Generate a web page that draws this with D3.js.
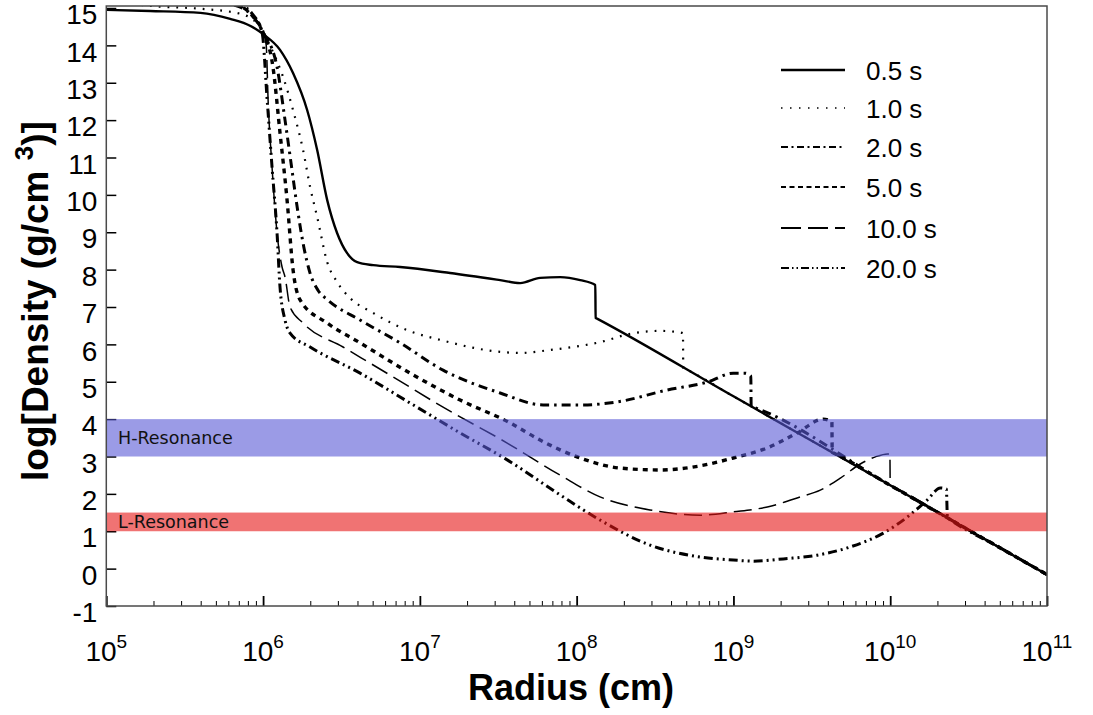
<!DOCTYPE html>
<html><head><meta charset="utf-8">
<script src="https://cdn.jsdelivr.net/npm/d3@7"></script>
<style>body{margin:0;background:#fff} svg{display:block}</style>
</head><body><svg id="c" width="1093" height="715"></svg>
<script>
// ---------- data (radius as log10(cm), density as log10(g/cm^3)) ----------
const seriesNames = ["0.5 s", "1.0 s", "2.0 s", "5.0 s", "10.0 s", "20.0 s"];

const logR_05 = [5.0, 5.28, 5.6, 5.79, 5.92, 6.0, 6.108, 6.191, 6.281, 6.345, 6.409, 6.472, 6.536, 6.6, 6.702, 6.874, 7.193, 7.512, 7.64, 7.767, 7.895, 8.023, 8.119, 8.121, 8.13, 9.0, 10.0, 11.0];
const rho_05  = [14.95, 14.92, 14.87, 14.71, 14.52, 14.30, 13.88, 13.26, 12.27, 11.20, 9.86, 8.98, 8.44, 8.20, 8.12, 8.07, 7.91, 7.72, 7.64, 7.78, 7.80, 7.72, 7.59, 6.71, 6.69, 4.61, 2.23, -0.16];

const logR_10 = [5.0, 5.3, 5.6, 5.85, 5.97, 6.02, 6.057, 6.128, 6.191, 6.255, 6.300, 6.345, 6.409, 6.472, 6.555, 6.702, 6.919, 7.130, 7.512, 7.640, 7.830, 8.149, 8.360, 8.533, 8.641, 8.678, 8.680, 8.69, 9.0, 10.0, 11.0];
const rho_10  = [15.2, 15.05, 14.98, 14.85, 14.55, 14.2, 13.88, 13.15, 12.27, 11.20, 10.21, 9.41, 8.20, 7.67, 7.24, 6.84, 6.38, 6.12, 5.80, 5.77, 5.85, 6.06, 6.30, 6.36, 6.33, 6.30, 5.37, 5.35, 4.61, 2.23, -0.16];

const logR_20 = [5.0, 5.5, 5.8, 5.93, 6.0, 6.089, 6.14, 6.18, 6.22, 6.26, 6.30, 6.35, 6.409, 6.619, 6.874, 7.148, 7.512, 7.786, 8.042, 8.259, 8.578, 8.833, 8.999, 9.075, 9.111, 9.113, 9.12, 10.0, 11.0];
const rho_20  = [15.5, 15.3, 15.1, 14.8, 14.35, 13.42, 12.0, 10.8, 9.6, 8.6, 7.9, 7.45, 7.2, 6.65, 6.04, 5.31, 4.70, 4.38, 4.38, 4.46, 4.78, 4.99, 5.23, 5.23, 5.15, 4.34, 4.33, 2.23, -0.16];

const logR_50 = [5.0, 5.5, 5.8, 5.93, 6.0, 6.063, 6.108, 6.153, 6.191, 6.236, 6.409, 6.619, 6.938, 7.257, 7.576, 7.767, 8.023, 8.278, 8.533, 8.788, 8.999, 9.216, 9.407, 9.573, 9.628, 9.630, 9.64, 10.0, 11.0];
const rho_50  = [15.6, 15.4, 15.15, 14.8, 14.35, 13.42, 11.66, 9.86, 8.0, 7.19, 6.57, 6.04, 5.23, 4.51, 3.90, 3.44, 2.96, 2.69, 2.64, 2.75, 2.96, 3.23, 3.63, 4.0, 3.92, 3.11, 3.09, 2.23, -0.16];

const logR_100 = [5.0, 5.5, 5.8, 5.93, 6.0, 6.02, 6.032, 6.057, 6.089, 6.121, 6.140, 6.172, 6.255, 6.510, 6.829, 7.148, 7.557, 7.895, 8.149, 8.468, 8.788, 8.999, 9.216, 9.427, 9.554, 9.682, 9.809, 9.905, 9.982, 9.998, 10.0, 10.01, 10.5, 11.0];
const rho_100  = [15.6, 15.4, 15.15, 14.8, 14.35, 14.0, 12.54, 10.75, 8.98, 8.07, 7.80, 7.0, 6.57, 5.93, 5.13, 4.32, 3.36, 2.5, 1.92, 1.57, 1.43, 1.52, 1.65, 1.92, 2.10, 2.42, 2.80, 2.99, 3.07, 3.07, 2.23, 2.21, 1.04, -0.16];

const logR_200 = [5.0, 5.5, 5.8, 5.93, 5.994, 6.026, 6.057, 6.089, 6.108, 6.140, 6.172, 6.300, 6.619, 6.938, 7.257, 7.557, 7.895, 8.149, 8.468, 8.788, 8.999, 9.127, 9.318, 9.535, 9.745, 9.956, 10.109, 10.237, 10.320, 10.358, 10.365, 10.375, 10.7, 11.0];
const rho_200  = [15.7, 15.5, 15.2, 14.85, 14.33, 12.54, 10.75, 8.98, 7.53, 6.65, 6.30, 5.93, 5.23, 4.43, 3.63, 2.91, 1.97, 1.30, 0.63, 0.31, 0.23, 0.20, 0.26, 0.36, 0.58, 0.95, 1.38, 1.84, 2.16, 2.13, 1.36, 1.33, 0.56, -0.16];

const yTickValues = [-1, 0, 1, 2, 3, 4, 5, 6, 7, 8, 9, 10, 11, 12, 13, 14, 15];
const xTickExponents = [5, 6, 7, 8, 9, 10, 11];

const bandNames = ["H-Resonance", "L-Resonance"];
const bandLow = [3, 1];
const bandHigh = [4, 1.5];

// ---------- styles ----------
const lineStyles = [
  {dash: null, w: 2.4, lw: 2.4, ldash: null},
  {dash: "1.8,7", w: 2.2, lw: 1.6, ldash: "1.5,7.5"},
  {dash: "9,5,2.5,5", w: 3, lw: 2, ldash: "7,3.5,2,3.5"},
  {dash: "5,5", w: 3.4, lw: 2, ldash: "5,3.5"},
  {dash: "18,7", w: 1.5, lw: 2, ldash: "20,7"},
  {dash: "9,4,2,4,2,4", w: 3, lw: 2, ldash: "8,3,1.5,3,1.5,3"}
];
const bandColors = ["rgb(88,88,213)", "rgb(230,22,22)"];

const L = {left: 106.3, right: 1047, top: 6, bottom: 606};
const svg = d3.select("#c");
const x = d3.scaleLog().domain([1e5, 1e11]).range([L.left, L.right]);
const y = d3.scaleLinear().domain([-1, 15]).range([606, 8]);

const series = [
  [logR_05, rho_05], [logR_10, rho_10], [logR_20, rho_20],
  [logR_50, rho_50], [logR_100, rho_100], [logR_200, rho_200]
].map(([lr, rh], i) => ({name: seriesNames[i], pts: lr.map((v, k) => [Math.pow(10, v), rh[k]])}));

svg.append("defs").append("clipPath").attr("id", "clip")
  .append("rect").attr("x", L.left).attr("y", L.top)
  .attr("width", L.right - L.left).attr("height", L.bottom - L.top);

const line = d3.line().x(d => x(d[0])).y(d => y(d[1])).curve(d3.curveMonotoneX);

const gLines = svg.append("g").attr("clip-path", "url(#clip)");
series.forEach((s, i) => {
  gLines.append("path").attr("d", line(s.pts))
    .attr("fill", "none").attr("stroke", "#000")
    .attr("stroke-width", lineStyles[i].w)
    .attr("stroke-dasharray", lineStyles[i].dash)
    .attr("stroke-linejoin", "round");
});

// axes
const fontTick = "'Liberation Sans', Arial, Helvetica, sans-serif";
const yAxis = d3.axisLeft(y).tickValues(yTickValues).tickSize(-10).tickPadding(9).tickFormat(d => String(d));
const gy = svg.append("g").attr("transform", `translate(${L.left},0)`).call(yAxis);
gy.select(".domain").remove();
gy.selectAll(".tick line").attr("stroke", "#000").attr("stroke-width", 1.5);
gy.selectAll(".tick text").attr("font-family", fontTick).attr("font-size", 28).attr("fill", "#000").attr("dy", "0.56em");

const majors = xTickExponents.map(e => Math.pow(10, e));
const xAxis = d3.axisBottom(x).tickValues(majors).tickSize(-10).tickFormat("");
const gx = svg.append("g").attr("transform", `translate(0,${L.bottom})`).call(xAxis);
gx.select(".domain").remove();
gx.selectAll(".tick line").attr("stroke", "#000").attr("stroke-width", 1.8);
const minors = [];
xTickExponents.slice(0, -1).forEach(e => { for (let m = 2; m <= 9; m++) minors.push(m * Math.pow(10, e)); });
const xMinor = d3.axisBottom(x).tickValues(minors).tickSize(-5).tickFormat("");
const gxm = svg.append("g").attr("transform", `translate(0,${L.bottom})`).call(xMinor);
gxm.select(".domain").remove();
gxm.selectAll(".tick line").attr("stroke", "#000").attr("stroke-width", 1);

const xl = svg.append("g").selectAll("text").data(xTickExponents).join("text")
  .attr("x", e => x(Math.pow(10, e))).attr("y", 661)
  .attr("text-anchor", "middle").attr("font-family", fontTick).attr("font-size", 28).attr("fill", "#000");
xl.append("tspan").text("10");
xl.append("tspan").attr("dy", -13).attr("font-size", 19).text(e => e);

// resonance bands (on top, translucent)
bandNames.forEach((n, i) => {
  svg.append("rect").attr("x", L.left).attr("width", L.right - L.left)
    .attr("y", y(bandHigh[i])).attr("height", y(bandLow[i]) - y(bandHigh[i]))
    .attr("fill", bandColors[i]).attr("fill-opacity", 0.6);
  svg.append("text").attr("x", 118).attr("y", (y(bandHigh[i]) + y(bandLow[i])) / 2 + 6)
    .attr("font-family", "'DejaVu Sans', sans-serif").attr("font-size", 17.5).attr("fill", "#111").text(n);
});

// frame
svg.append("rect").attr("x", L.left).attr("y", L.top).attr("width", L.right - L.left).attr("height", L.bottom - L.top)
  .attr("fill", "none").attr("stroke", "#4a4a4a").attr("stroke-width", 1.5);

// axis titles
svg.append("text").attr("x", 571).attr("y", 700).attr("text-anchor", "middle")
  .attr("font-family", fontTick).attr("font-weight", "bold").attr("font-size", 36).text("Radius (cm)");
const yt = svg.append("text").attr("transform", "translate(48,301) rotate(-90)").attr("text-anchor", "middle")
  .attr("font-family", fontTick).attr("font-weight", "bold").attr("font-size", 37);
yt.append("tspan").text("log[Density (g/cm ");
yt.append("tspan").attr("dy", -15).attr("font-size", 26).text("3");
yt.append("tspan").attr("dy", 15).text(")]");

// legend
const legendY = [70, 108, 147, 187, 228, 268];
const lg = svg.append("g");
series.forEach((s, i) => {
  lg.append("line").attr("x1", 781).attr("x2", 845).attr("y1", legendY[i]).attr("y2", legendY[i])
    .attr("stroke", "#000").attr("stroke-width", lineStyles[i].lw).attr("stroke-dasharray", lineStyles[i].ldash);
  lg.append("text").attr("x", 866).attr("y", legendY[i] + 10).attr("font-family", fontTick)
    .attr("font-size", 26).attr("fill", "#000").text(s.name);
});
</script></body></html>
